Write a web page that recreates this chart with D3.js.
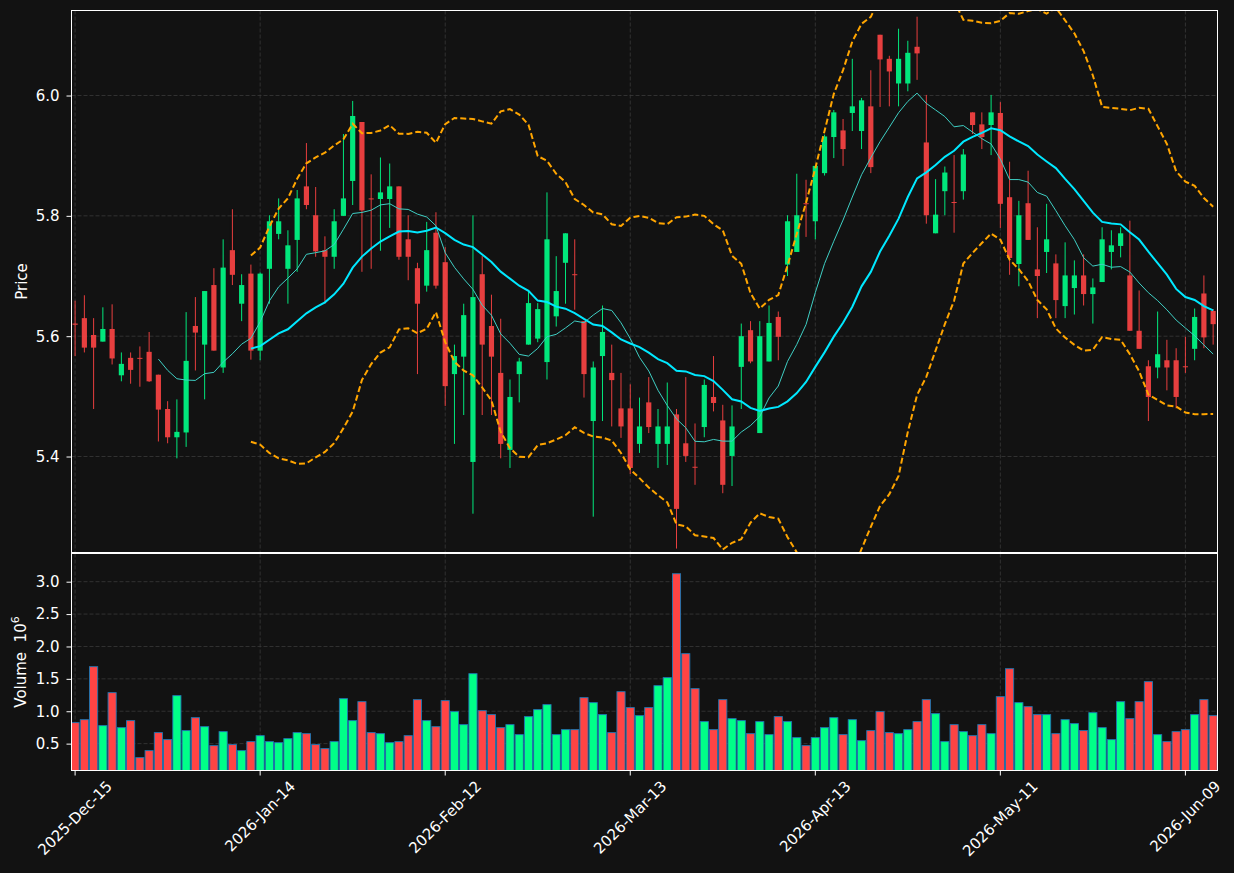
<!DOCTYPE html>
<html>
<head>
<meta charset="utf-8">
<script src="https://cdn.jsdelivr.net/npm/d3@7"></script>
<style>
  body { margin: 0; background: #121212; }
  svg text { font-family: "DejaVu Sans", sans-serif; }
</style>
</head>
<body>
<div id="chart"></div>
<script>
// trading days (NYSE calendar), one candle each
const dates = [
  "2025-12-15","2025-12-16","2025-12-17","2025-12-18","2025-12-19","2025-12-22","2025-12-23","2025-12-24","2025-12-26","2025-12-29",
  "2025-12-30","2025-12-31","2026-01-02","2026-01-05","2026-01-06","2026-01-07","2026-01-08","2026-01-09","2026-01-12","2026-01-13",
  "2026-01-14","2026-01-15","2026-01-16","2026-01-20","2026-01-21","2026-01-22","2026-01-23","2026-01-26","2026-01-27","2026-01-28",
  "2026-01-29","2026-01-30","2026-02-02","2026-02-03","2026-02-04","2026-02-05","2026-02-06","2026-02-09","2026-02-10","2026-02-11",
  "2026-02-12","2026-02-13","2026-02-17","2026-02-18","2026-02-19","2026-02-20","2026-02-23","2026-02-24","2026-02-25","2026-02-26",
  "2026-02-27","2026-03-02","2026-03-03","2026-03-04","2026-03-05","2026-03-06","2026-03-09","2026-03-10","2026-03-11","2026-03-12",
  "2026-03-13","2026-03-16","2026-03-17","2026-03-18","2026-03-19","2026-03-20","2026-03-23","2026-03-24","2026-03-25","2026-03-26",
  "2026-03-27","2026-03-30","2026-03-31","2026-04-01","2026-04-02","2026-04-06","2026-04-07","2026-04-08","2026-04-09","2026-04-10",
  "2026-04-13","2026-04-14","2026-04-15","2026-04-16","2026-04-17","2026-04-20","2026-04-21","2026-04-22","2026-04-23","2026-04-24",
  "2026-04-27","2026-04-28","2026-04-29","2026-04-30","2026-05-01","2026-05-04","2026-05-05","2026-05-06","2026-05-07","2026-05-08",
  "2026-05-11","2026-05-12","2026-05-13","2026-05-14","2026-05-15","2026-05-18","2026-05-19","2026-05-20","2026-05-21","2026-05-22",
  "2026-05-26","2026-05-27","2026-05-28","2026-05-29","2026-06-01","2026-06-02","2026-06-03","2026-06-04","2026-06-05","2026-06-08",
  "2026-06-09","2026-06-10","2026-06-11","2026-06-12"
];

const opens = [
  5.621,5.630,5.602,5.591,5.612,5.535,5.564,5.564,5.574,5.536, 5.479,5.432,5.440,5.617,5.586,5.685,5.548,5.743,5.654,5.704,
  5.576,5.712,5.770,5.712,5.760,5.849,5.801,5.743,5.732,5.800, 5.858,5.956,5.829,5.828,5.828,5.849,5.761,5.713,5.684,5.772,
  5.723,5.537,5.566,5.391,5.703,5.617,5.539,5.411,5.537,5.586, 5.596,5.557,5.633,5.722,5.703,5.625,5.459,5.567,5.539,5.480,
  5.480,5.421,5.490,5.421,5.421,5.470,5.422,5.383,5.449,5.499, 5.460,5.401,5.549,5.610,5.439,5.558,5.632,5.719,5.740,5.821,
  5.791,5.871,5.931,5.942,5.971,5.941,5.982,6.101,6.061,6.020, 6.020,6.081,5.922,5.771,5.841,5.823,5.841,5.972,5.952,5.951,
  5.971,5.831,5.720,5.821,5.711,5.740,5.721,5.650,5.680,5.701, 5.670,5.690,5.740,5.750,5.701,5.609,5.550,5.548,5.560,5.560,
  5.550,5.579,5.671,5.642
];
const highs = [
  5.659,5.668,5.630,5.648,5.653,5.573,5.573,5.583,5.607,5.536, 5.492,5.495,5.640,5.665,5.675,5.713,5.761,5.811,5.703,5.719,
  5.706,5.801,5.829,5.776,5.843,5.921,5.848,5.766,5.811,5.936, 5.991,5.956,5.869,5.897,5.887,5.849,5.801,5.722,5.790,5.806,
  5.748,5.586,5.654,5.801,5.733,5.669,5.629,5.528,5.564,5.675, 5.655,5.839,5.733,5.771,5.761,5.625,5.558,5.651,5.586,5.539,
  5.520,5.498,5.532,5.479,5.523,5.479,5.532,5.455,5.528,5.567, 5.486,5.485,5.621,5.625,5.625,5.651,5.641,5.801,5.870,5.860,
  5.883,5.935,5.976,5.961,6.061,5.996,6.042,6.101,6.066,6.111, 6.091,6.131,6.001,5.861,5.882,5.901,5.911,5.972,5.972,6.001,
  5.989,5.890,5.825,5.875,5.781,5.820,5.736,5.756,5.726,5.736, 5.696,5.781,5.776,5.781,5.792,5.676,5.560,5.641,5.594,5.580,
  5.599,5.646,5.701,5.645
];
const lows = [
  5.567,5.573,5.479,5.591,5.553,5.525,5.521,5.516,5.524,5.425, 5.422,5.397,5.416,5.543,5.495,5.576,5.539,5.685,5.625,5.561,
  5.560,5.654,5.761,5.654,5.707,5.811,5.732,5.654,5.712,5.800, 5.818,5.707,5.712,5.742,5.780,5.727,5.693,5.537,5.674,5.679,
  5.484,5.421,5.469,5.305,5.469,5.469,5.397,5.381,5.490,5.586, 5.590,5.528,5.616,5.654,5.644,5.498,5.300,5.459,5.450,5.431,
  5.371,5.406,5.439,5.381,5.386,5.247,5.391,5.353,5.432,5.475, 5.339,5.351,5.479,5.555,5.439,5.558,5.560,5.700,5.740,5.765,
  5.761,5.867,5.896,5.883,5.941,5.911,5.871,5.981,5.982,5.982, 6.007,6.026,5.787,5.771,5.801,5.772,5.827,5.936,5.911,5.901,
  5.780,5.702,5.683,5.760,5.630,5.705,5.630,5.630,5.636,5.651, 5.621,5.690,5.711,5.731,5.609,5.579,5.459,5.530,5.510,5.480,
  5.539,5.560,5.580,5.586
];
const closes = [
  5.619,5.581,5.581,5.612,5.563,5.554,5.544,5.563,5.525,5.478, 5.432,5.441,5.559,5.606,5.675,5.576,5.714,5.702,5.685,5.576,
  5.704,5.791,5.791,5.751,5.829,5.818,5.741,5.732,5.791,5.829, 5.966,5.809,5.828,5.839,5.849,5.732,5.732,5.654,5.743,5.684,
  5.517,5.567,5.635,5.665,5.586,5.566,5.421,5.499,5.558,5.655, 5.645,5.761,5.675,5.771,5.702,5.537,5.548,5.607,5.527,5.450,
  5.381,5.450,5.449,5.450,5.450,5.313,5.401,5.382,5.519,5.489, 5.353,5.450,5.600,5.558,5.600,5.622,5.599,5.791,5.801,5.820,
  5.883,5.932,5.972,5.911,5.982,5.992,5.881,6.060,6.040,6.061, 6.071,6.070,5.801,5.802,5.872,5.822,5.902,5.951,5.931,5.972,
  5.820,5.730,5.801,5.760,5.700,5.761,5.660,5.701,5.701,5.670, 5.681,5.761,5.751,5.771,5.609,5.579,5.499,5.570,5.548,5.499,
  5.549,5.632,5.598,5.620
];
// volume in millions of shares
const volumes = [
  0.824,0.870,1.688,0.778,1.287,0.747,0.855,0.284,0.392,0.670, 0.562,1.241,0.701,0.901,0.762,0.469,0.685,0.485,0.392,0.531,
  0.623,0.531,0.515,0.577,0.670,0.654,0.485,0.423,0.531,1.194, 0.855,1.148,0.670,0.654,0.515,0.531,0.623,1.179,0.855,0.762,
  1.164,0.994,0.793,1.580,1.009,0.948,0.747,0.793,0.639,0.917, 1.025,1.102,0.639,0.716,0.716,1.210,1.133,0.948,0.670,1.302,
  1.056,0.932,1.056,1.395,1.519,3.123,1.889,1.349,0.840,0.716, 1.179,0.886,0.855,0.654,0.840,0.639,0.917,0.840,0.593,0.469,
  0.593,0.747,0.901,0.639,0.870,0.546,0.701,0.994,0.670,0.654, 0.716,0.840,1.179,0.963,0.531,0.793,0.685,0.623,0.793,0.654,
  1.225,1.657,1.133,1.071,0.948,0.948,0.654,0.870,0.809,0.701, 0.978,0.747,0.562,1.148,0.886,1.148,1.457,0.639,0.531,0.685,
  0.716,0.948,1.179,0.932
];

const priceTicks  = [5.4, 5.6, 5.8, 6.0];
const volumeTicks = [0.5, 1.0, 1.5, 2.0, 2.5, 3.0];
const tickEvery = 20;
const maShort = 10, maLong = 20, bandK = 2;

const UP = "#00ff88", DOWN = "#ff4444", BG = "#121212", GRID = "#3a3a3a";
const FS = 15;

const W = 1234, H = 873;
const left = 71.5, right = 1217.5;
const pTop = 10.5, pBottom = 552.5, vTop = 553.5, vBottom = 770.5;

const svg = d3.select("#chart").append("svg")
    .attr("width", W).attr("height", H);
svg.append("rect").attr("width", W).attr("height", H).attr("fill", BG);

const defs = svg.append("defs");
defs.append("clipPath").attr("id", "clipP").append("rect")
    .attr("x", left).attr("y", pTop).attr("width", right - left).attr("height", pBottom - pTop);
defs.append("clipPath").attr("id", "clipV").append("rect")
    .attr("x", left).attr("y", vTop).attr("width", right - left).attr("height", vBottom - vTop);

const n = closes.length;
const x = d3.scaleLinear().domain([-0.39, n - 1 + 0.47]).range([left, right]);
const step = x(1) - x(0);
const y = d3.scaleLinear().domain([5.2405, 6.1413]).range([pBottom, pTop]);
const yv = d3.scaleLinear()
    .domain([0.3 * d3.min(volumes), 1.1 * d3.max(volumes)])
    .range([vBottom, vTop]);

const idx = d3.range(n);
const xTicks = idx.filter(i => i % tickEvery === 0);

// grid
const grid = svg.append("g").attr("stroke", GRID).attr("stroke-width", 0.8)
    .attr("stroke-dasharray", "4,2");
xTicks.forEach(i => {
  grid.append("line").attr("x1", x(i)).attr("x2", x(i)).attr("y1", pTop).attr("y2", pBottom);
  grid.append("line").attr("x1", x(i)).attr("x2", x(i)).attr("y1", vTop).attr("y2", vBottom);
});
priceTicks.forEach(v => grid.append("line").attr("x1", left).attr("x2", right).attr("y1", y(v)).attr("y2", y(v)));
volumeTicks.forEach(v => grid.append("line").attr("x1", left).attr("x2", right).attr("y1", yv(v)).attr("y2", yv(v)));

// candles
const isUp = i => closes[i] >= opens[i];
const pg = svg.append("g").attr("clip-path", "url(#clipP)");
const candles = pg.selectAll("g.candle").data(idx).enter().append("g")
    .attr("class", "candle").attr("opacity", 0.9);
candles.append("line")
    .attr("x1", i => x(i)).attr("x2", i => x(i))
    .attr("y1", i => y(highs[i])).attr("y2", i => y(lows[i]))
    .attr("stroke", i => isUp(i) ? UP : DOWN).attr("stroke-width", 1);
const bw = step * 0.56;
candles.append("rect")
    .attr("x", i => x(i) - bw / 2).attr("width", bw)
    .attr("y", i => y(Math.max(opens[i], closes[i])))
    .attr("height", i => Math.max(1, Math.abs(y(opens[i]) - y(closes[i]))))
    .attr("fill", i => isUp(i) ? UP : DOWN);

// indicators
function rollingMean(arr, k) {
  return arr.map((_, i) => i < k - 1 ? null : d3.mean(arr.slice(i - k + 1, i + 1)));
}
function rollingStd(arr, k) {
  return arr.map((_, i) => i < k - 1 ? null : d3.deviation(arr.slice(i - k + 1, i + 1)));
}
const ma10 = rollingMean(closes, maShort);
const ma20 = rollingMean(closes, maLong);
const sd20 = rollingStd(closes, maLong);
const upper = ma20.map((m, i) => m == null ? null : m + bandK * sd20[i]);
const lower = ma20.map((m, i) => m == null ? null : m - bandK * sd20[i]);

const line = d3.line().defined(d => d != null).x((d, i) => x(i)).y(d => y(d));
[upper, lower].forEach(band => {
  pg.append("path").attr("d", line(band)).attr("fill", "none")
      .attr("stroke", "#ffa500").attr("stroke-width", 2).attr("stroke-dasharray", "6,3");
});
pg.append("path").attr("d", line(ma10)).attr("fill", "none")
    .attr("stroke", "#3fcfc4").attr("stroke-width", 1);
pg.append("path").attr("d", line(ma20)).attr("fill", "none")
    .attr("stroke", "#00e8ff").attr("stroke-width", 2);

// volume bars
const vg = svg.append("g").attr("clip-path", "url(#clipV)");
const vw = step * 0.88;
vg.selectAll("rect").data(idx).enter().append("rect")
    .attr("x", i => x(i) - vw / 2).attr("width", vw)
    .attr("y", i => yv(volumes[i]))
    .attr("height", i => vBottom - yv(volumes[i]))
    .attr("fill", i => isUp(i) ? UP : DOWN)
    .attr("stroke", "#1f77b4").attr("stroke-width", 0.9);

// spines
[[pTop, pBottom], [vTop, vBottom]].forEach(([t, b]) => {
  svg.append("rect").attr("x", left).attr("y", t).attr("width", right - left).attr("height", b - t)
      .attr("fill", "none").attr("stroke", "#ffffff").attr("stroke-width", 1);
});

// y axes
function styleAxis(g) {
  g.select(".domain").remove();
  g.selectAll(".tick line").attr("stroke", "#ffffff");
  g.selectAll(".tick text").attr("fill", "#ffffff").attr("font-size", FS)
      .attr("font-family", "DejaVu Sans, sans-serif");
}
svg.append("g").attr("transform", `translate(${left},0)`)
    .call(d3.axisLeft(y).tickValues(priceTicks).tickFormat(d3.format(".1f")).tickSize(5).tickPadding(7))
    .call(styleAxis);
svg.append("g").attr("transform", `translate(${left},0)`)
    .call(d3.axisLeft(yv).tickValues(volumeTicks).tickFormat(d3.format(".1f")).tickSize(5).tickPadding(7))
    .call(styleAxis);

// x axis ticks + rotated labels
const fmt = d3.timeFormat("%Y-%b-%d"), parse = d3.timeParse("%Y-%m-%d");
const xa = svg.append("g");
xTicks.forEach(i => {
  xa.append("line").attr("x1", x(i)).attr("x2", x(i)).attr("y1", vBottom).attr("y2", vBottom + 5)
      .attr("stroke", "#ffffff");
  const t = xa.append("text").text(fmt(parse(dates[i])))
      .attr("font-size", FS).attr("fill", "#ffffff")
      .attr("text-anchor", "middle").attr("dominant-baseline", "central");
  const L = t.node().getComputedTextLength();
  const half = (L + FS) / (2 * Math.SQRT2);
  t.attr("transform", `translate(${x(i)},${vBottom + 8 + half}) rotate(-45)`);
});

// axis labels
svg.append("text").attr("transform", `translate(22,${(pTop + pBottom) / 2}) rotate(-90)`)
    .attr("text-anchor", "middle").attr("dominant-baseline", "central")
    .attr("font-size", FS).attr("fill", "#ffffff").text("Price");
const vl = svg.append("text").attr("transform", `translate(21,${(vTop + vBottom) / 2}) rotate(-90)`)
    .attr("text-anchor", "middle").attr("dominant-baseline", "central")
    .attr("font-size", FS).attr("fill", "#ffffff");
vl.append("tspan").text("Volume\u00a0\u00a010");
vl.append("tspan").attr("dy", -6).attr("font-size", 11).text("6");
</script>
</body>
</html>
